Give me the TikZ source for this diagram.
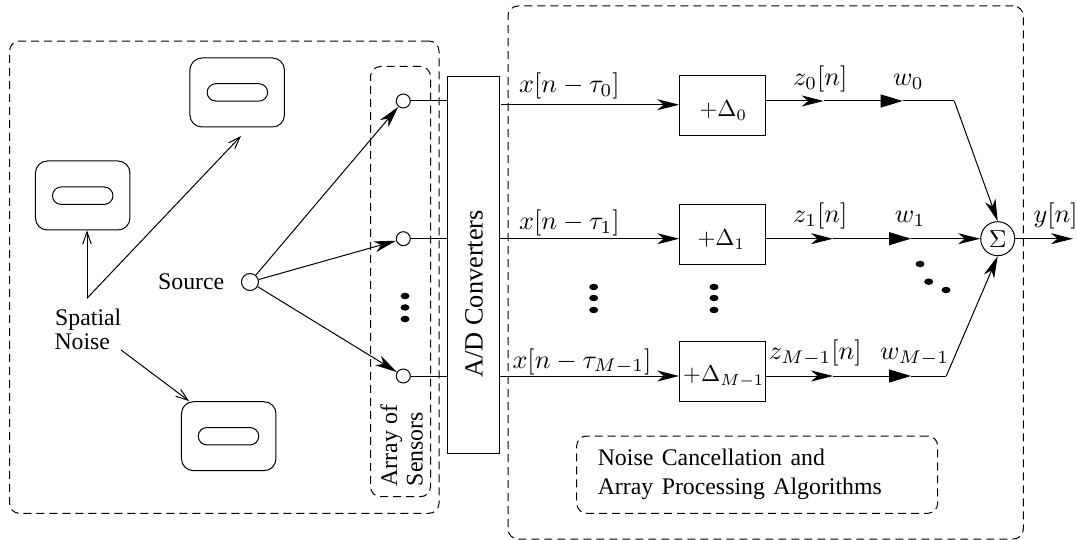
\documentclass[tikz,border=0pt]{standalone}
\usepackage[no-math]{fontspec}
\setmainfont{Liberation Serif}
\usetikzlibrary{arrows.meta,calc,shapes.geometric}
\newcommand{\mbx}[1]{\scalebox{2.62}{$#1$}}
\newcommand{\mbd}[1]{\scalebox{2.3}{$#1$}}
\newcommand{\widesp}{\spaceskip=8.5pt plus 0pt minus 0pt\relax}
\tikzset{
  x=1pt,y=-1pt,
  every path/.style={line width=1pt},
  region/.style={draw,dashed,dash pattern=on 8pt off 5pt,rounded corners=10pt,inner sep=0pt,fill=none},
  dev/.style={draw,rounded corners=12pt,minimum width=94.5pt,minimum height=69pt,inner sep=0pt},
  slot/.style={draw,rounded corners=8.7pt,minimum width=60.5pt,minimum height=17.4pt,inner sep=0pt},
  dbox/.style={draw,minimum width=86pt,minimum height=60pt,inner sep=0pt},
  sens/.style={draw,circle,fill=white,minimum size=14pt,inner sep=0pt},
  txt/.style={anchor=base west,inner sep=0pt,font=\fontsize{23.8}{28}\selectfont},
  bigtxt/.style={anchor=base west,inner sep=0pt,font=\fontsize{26.3}{30}\selectfont},
  mth/.style={anchor=base west,inner sep=0pt},
  open/.style={-{Straight Barb[length=12pt,width=8.5pt]}},
  tipa/.style={-{Stealth[length=22pt,width=11pt,inset=6.5pt]}},
  tipb/.style={-{Triangle[length=22pt,width=13pt]}},
  dotm/.style={draw=none,fill=black,ellipse,minimum width=9pt,minimum height=6.5pt,inner sep=0pt},
}
\begin{document}
\begin{tikzpicture}
\useasboundingbox (0,0) rectangle (1077,540);
% regions
\node[region,minimum width=429.5pt,minimum height=472.3pt] (left) at (224.25,277.2) {};
\node[region,minimum width=60pt,minimum height=430.2pt] (array) at (400.5,281.6) {};
\node[region,minimum width=515.3pt,minimum height=533pt] (right) at (765.65,272.5) {};
\node[region,minimum width=361pt,minimum height=77.3pt] (algo) at (757.2,474.65) {};
% devices
\node[dev] (dev1) at (237.2,92.5) {};
\node[slot] (slot1) at (237.4,92.4) {};
\node[dev] (dev2) at (82.7,195.5) {};
\node[slot] (slot2) at (82.7,195.7) {};
\node[dev] (dev3) at (228.7,436.2) {};
\node[slot] (slot3) at (228.5,436.2) {};
% sensors, source
\node[sens] (s0) at (403.3,101) {};
\node[sens] (s1) at (403.3,238.7) {};
\node[sens] (s2) at (403.3,376) {};
\node[draw,circle,fill=white,minimum size=17pt,inner sep=0pt] (src) at (250,282) {};
% converters
\node[draw,minimum width=51.6pt,minimum height=376pt,inner sep=0pt] (adc) at (473.5,265) {};
% delta boxes
\node[dbox] (d0) at (722.7,105.3) {};
\node[dbox] (d1) at (722.7,234.2) {};
\node[dbox] (d2) at (722.7,371.7) {};
% sum
\node[draw,circle,minimum size=34pt,inner sep=0pt] (sum) at (997.7,238.7) {};
\node[inner sep=0pt] (sumsym) at (997.7,238.7) {\scalebox{2.45}{$\Sigma$}};
% text
\node[txt] (tspatial) at (54.7,325) {Spatial};
\node[txt] (tnoise) at (54,349) {Noise};
\node[txt] (tsource) at (157.7,290) {Source};
\node[txt,rotate=90] (tarray) at (397,486.7) {Array of};
\node[txt,rotate=90] (tsens) at (422.7,486.7) {Sensors};
\node[bigtxt,rotate=90] (tadc) at (482.7,378) {A/D Converters};
\node[txt] (talg1) at (597.3,465) {\widesp Noise Cancellation and};
\node[txt] (talg2) at (597.3,494) {\widesp Array Processing Algorithms};
% math labels
\node[mth] (lx0) at (518.7,93) {\mbx{x[n-\tau_0]}};
\node[mth] (lx1) at (518.7,230) {\mbx{x[n-\tau_1]}};
\node[mth] (lx2) at (512,368) {\mbx{x[n-\tau_{M-1}]}};
\node[mth] (ld0) at (699,116.7) {\mbd{+\Delta_0}};
\node[mth] (ld1) at (697,246) {\mbd{+\Delta_1}};
\node[mth] (ld2) at (682.7,381.7) {\mbd{+\Delta_{M-1}}};
\node[mth] (lz0) at (792.7,86) {\mbx{z_0[n]}};
\node[mth] (lz1) at (792.7,223) {\mbx{z_1[n]}};
\node[mth] (lz2) at (768.7,359.3) {\mbx{z_{M-1}[n]}};
\node[mth] (lw0) at (892.7,86) {\mbx{w_0}};
\node[mth] (lw1) at (894.3,223) {\mbx{w_1}};
\node[mth] (lw2) at (879.7,359.3) {\mbx{w_{M-1}}};
\node[mth] (ly) at (1033,223) {\mbx{y[n]}};
% noise arrows
\coordinate (apex) at (87,298.3);
\coordinate (n1end) at (241,136);
\coordinate (n3start) at (121,350);
\coordinate (n3end) at (189,401);
\draw[open] (apex) -- (apex |- dev2.south);
\draw[open] (apex) -- (n1end);
\draw[open] (n3start) -- (n3end);
% source to sensors
\draw[tipa] (src) -- (s0);
\draw[tipa] (src) -- (s1);
\draw[tipa] (src) -- (s2);
% sensors to converters
\draw (s0) -- (s0 -| adc.west);
\draw (s1) -- (s1 -| adc.west);
\draw (s2) -- (s2 -| adc.west);
% converters to delays
\coordinate (x0s) at (501,104.7);
\draw[tipa] (x0s) -- (x0s -| d0.west);
\draw[tipa] (s1 -| adc.east) -- (s1 -| d1.west);
\draw[tipa] (s2 -| adc.east) -- (s2 -| d2.west);
% branch 0
\coordinate (z0t) at (823.7,101);
\coordinate (w0t) at (902.7,101);
\coordinate (b0) at (954.3,101);
\draw[tipa] (z0t -| d0.east) -- (z0t);
\draw[tipb] (z0t) -- (w0t);
\draw (w0t) -- (b0);
\draw[tipa] (b0) -- (sum.north);
% branch 1
\coordinate (z1t) at (833,238.7);
\coordinate (w1t) at (911,238.7);
\draw[tipa] (z1t -| d1.east) -- (z1t);
\draw[tipb] (z1t) -- (w1t);
\draw[tipa] (w1t) -- (sum.west);
% branch 2
\coordinate (z2t) at (833,376);
\coordinate (w2t) at (911,376);
\coordinate (b2) at (946.3,376);
\draw[tipa] (z2t -| d2.east) -- (z2t);
\draw[tipb] (z2t) -- (w2t);
\draw (w2t) -- (b2);
\draw[tipa] (b2) -- (sum.south);
% output
\coordinate (yend) at (1073,238.7);
\draw[tipa] (sum.east) -- (yend);
% dots
\node[dotm] (da1) at (405,296) {};
\node[dotm] (da2) at (405,307.5) {};
\node[dotm] (da3) at (405,319) {};
\node[dotm] (db1) at (593.7,287) {};
\node[dotm] (db2) at (593.7,298) {};
\node[dotm] (db3) at (593.7,310) {};
\node[dotm] (dc1) at (714,287) {};
\node[dotm] (dc2) at (714,298) {};
\node[dotm] (dc3) at (714,310) {};
\node[dotm] (dd1) at (920,264) {};
\node[dotm] (dd2) at (928.7,281.7) {};
\node[dotm] (dd3) at (946,290) {};
\end{tikzpicture}
\end{document}
